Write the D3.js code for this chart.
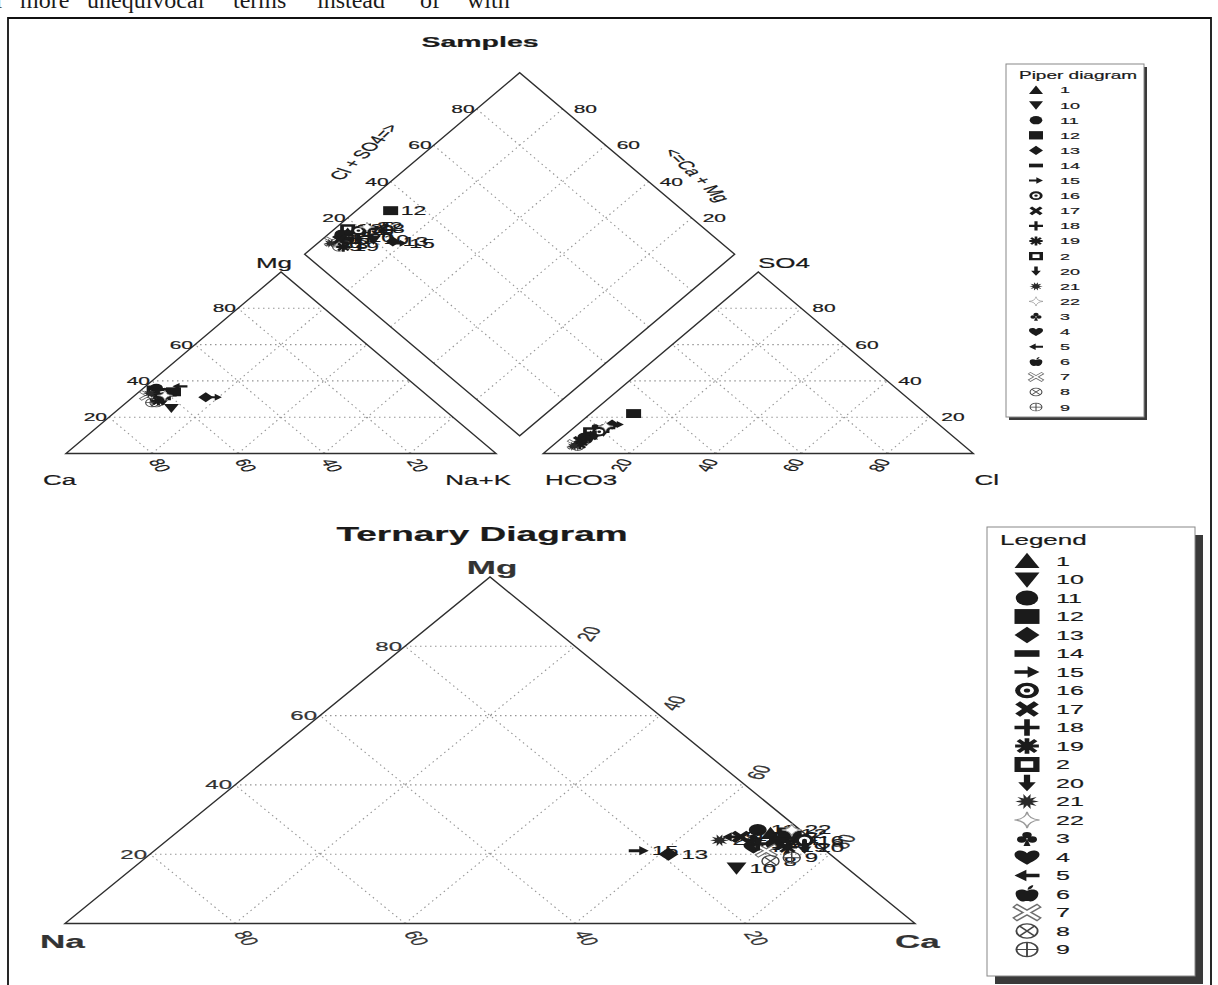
<!DOCTYPE html>
<html>
<head>
<meta charset="utf-8">
<script src="https://cdn.jsdelivr.net/npm/d3@7"></script>
<style>
  body { margin: 0; background: #fff; }
  text { font-family: "Liberation Sans", Arial, Helvetica, sans-serif; fill: #1a1a1a;
         stroke: #1a1a1a; stroke-width: 0.35; }
</style>
</head>
<body>
<svg id="chart" width="1218" height="985"></svg>
<script>
// sample ids, in the order they were plotted
var samples = ["1", "2", "3", "4", "5", "6", "7", "8", "9", "10", "11",
               "12", "13", "14", "15", "16", "17", "18", "19", "20", "21", "22"];
// marker of each sample (same order as samples)
var markers = ["triUp", "sqHole", "club", "heart", "arrowL", "apple", "xout", "cx", "cplus",
               "triDown", "circle", "square", "diamond", "bar", "arrowR", "bull", "xbold",
               "plus", "ast", "arrowD", "burst", "star4"];

// Piper diagram - cations, % meq/L
var ca   = [63, 62, 60, 62, 55, 64, 65, 65, 66, 63, 61, 58, 52, 60, 50, 61, 62, 60, 64, 63, 64, 61];
var mg   = [33, 35, 34, 31, 37, 30, 32, 28, 28, 25, 36, 34, 31, 35, 31, 33, 34, 32, 29, 29, 33, 32];
var nak  = [ 4,  3,  6,  7,  8,  6,  3,  7,  6, 12,  3,  8, 17,  5, 19,  6,  4,  8,  7,  8,  3,  7];
// Piper diagram - anions, % meq/L
var hco3 = [84, 83, 80, 80, 77, 86, 90, 88, 90, 80, 86, 68, 76, 83, 75, 81, 88, 78, 89, 83, 91, 78];
var cl   = [ 6,  5,  7,  6,  8,  6,  5,  6,  6,  8,  5, 10,  8,  6,  9,  7,  5,  8,  6,  7,  5,  7];
var so4  = [10, 12, 13, 14, 15,  8,  5,  6,  4, 12,  9, 22, 16, 11, 16, 12,  7, 14,  5, 10,  4, 15];

// Ternary diagram (Na - Mg - Ca), %
var triNa = [ 4,  2,  7,  8,  9,  5,  7,  8,  5, 13,  5,  2, 19,  4, 22,  1,  8,  7,  4,  2, 11,  1];
var triMg = [26, 25, 24, 22, 25, 23, 21, 18, 19, 16, 27, 26, 20, 24, 21, 24, 25, 23, 22, 22, 24, 27];
var triCa = [70, 73, 69, 70, 66, 72, 72, 74, 76, 71, 68, 72, 61, 72, 57, 75, 67, 70, 74, 76, 65, 72];

var ticks = [20, 40, 60, 80];

var K = 0.54;     // the whole figure is squashed vertically
var KS = 0.66;    // ...markers a little less
var svg = d3.select("#chart");

// ---------- helpers ----------
function txt(g, s, x, y, o) {
  o = o || {};
  var t = g.append("text")
    .attr("transform", "translate(" + x + "," + y + ") scale(1," + K + ")" +
          (o.rot ? " rotate(" + o.rot + ")" : ""))
    .attr("font-size", o.size || 21)
    .attr("text-anchor", o.anchor || "start")
    .text(s);
  if (o.bold) t.attr("font-weight", "bold");
  if (o.dy) t.attr("dy", o.dy);
  if (o.fill) t.style("fill", o.fill).style("stroke", o.fill);
  return t;
}

function sym(g, type, x, y, r) {
  var s = g.append("g")
    .attr("transform", "translate(" + x + "," + y + ") scale(" + r + "," + (r * KS) + ")");
  var dark = "#1b1b1b";
  function p(d, fill) { return s.append("path").attr("d", d).attr("fill", fill || dark); }
  function c(cx, cy, rr, fill) {
    return s.append("circle").attr("cx", cx).attr("cy", cy).attr("r", rr).attr("fill", fill || dark);
  }
  function st(d, col, w) {
    return s.append("path").attr("d", d).attr("fill", "none")
      .attr("stroke", col).attr("stroke-width", w);
  }
  switch (type) {
    case "triUp":   p("M0,-1L1,0.85L-1,0.85Z"); break;
    case "triDown": p("M0,1L1,-0.85L-1,-0.85Z"); break;
    case "circle":  c(0, 0, 0.9); break;
    case "square":  p("M-1,-0.9H1V0.9H-1Z"); break;
    case "diamond": p("M0,-1L1,0L0,1L-1,0Z"); break;
    case "bar":     p("M-1,-0.4H1V0.4H-1Z"); break;
    case "arrowR":  p("M-1,-0.22H0.05V-0.7L1,0L0.05,0.7V0.22H-1Z"); break;
    case "arrowL":  p("M1,-0.22H-0.05V-0.7L-1,0L-0.05,0.7V0.22H1Z"); break;
    case "arrowD":  p("M-0.25,-1H0.25V-0.1H0.7L0,1L-0.7,-0.1H-0.25Z"); break;
    case "bull":    c(0, 0, 0.95); c(0, 0, 0.55, "#fff"); c(0, 0, 0.25); break;
    case "xbold":   st("M-0.75,-0.75L0.75,0.75M0.75,-0.75L-0.75,0.75", dark, 0.55); break;
    case "plus":    st("M-1,0H1M0,-1V1", dark, 0.45); break;
    case "ast":
      st("M-0.95,0H0.95M0,-0.95V0.95M-0.7,-0.7L0.7,0.7M0.7,-0.7L-0.7,0.7", dark, 0.38);
      c(0, 0, 0.4); break;
    case "sqHole":
      p("M-1,-0.9H1V0.9H-1Z M-0.5,-0.4V0.4H0.5V-0.4Z").attr("fill-rule", "evenodd"); break;
    case "burst":
      var pts = d3.range(20).map(function(i) {
        var a = i * Math.PI / 10, rr = i % 2 ? 0.45 : 0.95;
        return [rr * Math.cos(a), rr * Math.sin(a)];
      });
      p("M" + pts.join("L") + "Z", "#2a2a2a"); break;
    case "star4":
      st("M0,-1Q0.12,-0.12 1,0Q0.12,0.12 0,1Q-0.12,0.12 -1,0Q-0.12,-0.12 0,-1Z", "#9a9a9a", 0.13)
        .attr("fill", "#fff"); break;
    case "club":
      c(0, -0.42, 0.38); c(-0.42, 0.12, 0.38); c(0.42, 0.12, 0.38);
      p("M0,0L0.28,0.9H-0.28Z"); break;
    case "heart":
      p("M0,0.95C-0.35,0.6 -1,0.25 -1,-0.3C-1,-0.85 -0.3,-0.95 0,-0.45C0.3,-0.95 1,-0.85 1,-0.3C1,0.25 0.35,0.6 0,0.95Z");
      break;
    case "apple":
      p("M0,-0.4C0.5,-0.75 1,-0.5 0.9,0.1C0.85,0.6 0.5,0.95 0.25,0.9C0.1,0.85 -0.1,0.85 -0.25,0.9" +
        "C-0.5,0.95 -0.85,0.6 -0.9,0.1C-1,-0.5 -0.5,-0.75 0,-0.4Z");
      p("M0.05,-0.5C0.05,-0.85 0.3,-1.05 0.5,-1.05C0.5,-0.8 0.3,-0.55 0.05,-0.5Z");
      break;
    case "xout":
      st("M-1,-0.85L1,0.85M1,-0.85L-1,0.85", "#6e6e6e", 0.6);
      st("M-0.9,-0.77L0.9,0.77M0.9,-0.77L-0.9,0.77", "#fff", 0.28); break;
    case "cx":
      c(0, 0, 0.85, "none").attr("stroke", "#444").attr("stroke-width", 0.15);
      st("M-0.6,-0.6L0.6,0.6M0.6,-0.6L-0.6,0.6", "#444", 0.15); break;
    case "cplus":
      c(0, 0, 0.85, "none").attr("stroke", "#444").attr("stroke-width", 0.15);
      st("M-0.85,0H0.85M0,-0.85V0.85", "#444", 0.15); break;
  }
  return s;
}

function drawGrid(g, segs) {
  g.selectAll(null).data(segs).enter().append("line")
    .attr("x1", function(d) { return d[0][0]; })
    .attr("y1", function(d) { return d[0][1]; })
    .attr("x2", function(d) { return d[1][0]; })
    .attr("y2", function(d) { return d[1][1]; })
    .attr("stroke", "#959595")
    .attr("stroke-width", 1.1)
    .attr("stroke-dasharray", "1.5,3.5");
}

function drawOutline(g, corners) {
  g.append("path")
    .attr("d", d3.line()(corners) + "Z")
    .attr("fill", "none")
    .attr("stroke", "#2e2e2e")
    .attr("stroke-width", 1.4);
}

// ---------- page frame and text above ----------
var quote = svg.append("text")
  .attr("y", 8)
  .style("font-family", "'Liberation Serif', 'Times New Roman', serif")
  .style("stroke", "none")
  .attr("font-size", 24);
[["r", -4], ["more", 20], ["unequivocal", 87], ["terms", 233], ["instead", 317], ["of", 420], ["with", 467]]
  .forEach(function(w) { quote.append("tspan").attr("x", w[1]).text(w[0]); });

svg.append("path")
  .attr("d", "M8,985V18H1211V985")
  .attr("fill", "none").attr("stroke", "#111").attr("stroke-width", 1.8);

// ---------- Piper diagram ----------
var px = d3.scaleLinear().domain([0, 100]).range([66, 496]);
var py = d3.scaleLinear().domain([0, 100]).range([453.5, 272]);
var gap = 11, dv = 9.8;
function catPt(nk, m) { return [px(nk + m / 2), py(m)]; }
function anPt(c, s) { return [px(100 + gap + c + s / 2), py(s)]; }
function diaPt(a, b) { return [px(50 + gap / 2 + (a + b) / 2), py(100 + dv + b - a)]; }

var piper = svg.append("g");
var segs = [];
ticks.forEach(function(t) {
  segs.push([catPt(0, t), catPt(100 - t, t)], [catPt(t, 0), catPt(t, 100 - t)],
            [catPt(100 - t, 0), catPt(0, 100 - t)]);
  segs.push([anPt(0, t), anPt(100 - t, t)], [anPt(t, 0), anPt(t, 100 - t)],
            [anPt(100 - t, 0), anPt(0, 100 - t)]);
  segs.push([diaPt(t, 0), diaPt(t, 100)], [diaPt(0, t), diaPt(100, t)]);
});
drawGrid(piper, segs);
drawOutline(piper, [catPt(0, 0), catPt(100, 0), catPt(0, 100)]);
drawOutline(piper, [anPt(0, 0), anPt(100, 0), anPt(0, 100)]);
drawOutline(piper, [diaPt(0, 0), diaPt(100, 0), diaPt(100, 100), diaPt(0, 100)]);

ticks.forEach(function(t) {
  var q = catPt(0, t);
  txt(piper, t, q[0] - 2, q[1], { anchor: "end", dy: "0.35em" });
  q = catPt(100 - t, 0);
  txt(piper, t, q[0] + 3, q[1] + 6, { rot: 65, dy: "0.35em" });
  q = anPt(t, 0);
  txt(piper, t, q[0] - 3, q[1] + 6, { rot: -65, anchor: "end", dy: "0.35em" });
  q = anPt(100 - t, t);
  txt(piper, t, q[0] + 11, q[1], { dy: "0.35em" });
  q = diaPt(0, t);
  txt(piper, t, q[0] - 2, q[1], { anchor: "end", dy: "0.35em" });
  q = diaPt(100 - t, 100);
  txt(piper, t, q[0] + 11, q[1], { dy: "0.35em" });
});

txt(piper, "Samples", 480, 47, { size: 28.5, bold: true, anchor: "middle" });
txt(piper, "Cl + SO4=>", 364, 152, { size: 22, rot: -60, anchor: "middle", dy: "0.35em" });
txt(piper, "<=Ca + Mg", 697, 175, { size: 22, rot: 60, anchor: "middle", dy: "0.35em" });
txt(piper, "Mg", 274, 268, { size: 26, anchor: "middle" });
txt(piper, "SO4", 758, 268, { size: 26 });
txt(piper, "Ca", 43, 485, { size: 26 });
txt(piper, "Na+K", 511, 485, { size: 26, anchor: "end" });
txt(piper, "HCO3", 545, 485, { size: 26 });
txt(piper, "Cl", 999, 485, { size: 26, anchor: "end" });

var piperPts = piper.append("g");
samples.forEach(function(id, i) {
  var a = catPt(nak[i], mg[i]);
  var b = anPt(cl[i], so4[i]);
  var d = diaPt(nak[i], cl[i] + so4[i]);
  sym(piperPts, markers[i], a[0], a[1], 7.5);
  sym(piperPts, markers[i], b[0], b[1], 7.5);
  sym(piperPts, markers[i], d[0], d[1], 7.5);
  txt(piperPts, id, d[0] + 10, d[1], { size: 23, dy: "0.35em" });
});

// ---------- Ternary diagram ----------
var tx = d3.scaleLinear().domain([0, 100]).range([65, 915]);
var ty = d3.scaleLinear().domain([0, 100]).range([923.5, 577]);
function terPt(c, m) { return [tx(c + m / 2), ty(m)]; }

var tern = svg.append("g");
var tsegs = [];
ticks.forEach(function(t) {
  tsegs.push([terPt(0, t), terPt(100 - t, t)], [terPt(t, 0), terPt(t, 100 - t)],
             [terPt(100 - t, 0), terPt(0, 100 - t)]);
});
drawGrid(tern, tsegs);
drawOutline(tern, [terPt(0, 0), terPt(100, 0), terPt(0, 100)]);

ticks.forEach(function(t) {
  var q = terPt(0, t);
  txt(tern, t, q[0] - 3, q[1], { size: 24, anchor: "end", dy: "0.35em", fill: "#333" });
  q = terPt(t, 100 - t);
  txt(tern, t, q[0] + 8, q[1] - 6, { size: 24, rot: -65, dy: "0.35em", fill: "#333" });
  q = terPt(t, 0);
  txt(tern, 100 - t, q[0] + 6, q[1] + 8, { size: 24, rot: 65, dy: "0.35em", fill: "#333" });
});

txt(tern, "Ternary Diagram", 482, 541, { size: 37, bold: true, anchor: "middle" });
txt(tern, "Mg", 492, 574, { size: 35, bold: true, anchor: "middle", fill: "#333" });
txt(tern, "Na", 40, 948, { size: 35, bold: true, fill: "#333" });
txt(tern, "Ca", 895, 948, { size: 35, bold: true, fill: "#333" });

var ternPts = tern.append("g");
samples.forEach(function(id, i) {
  var q = terPt(triCa[i], triMg[i]);
  sym(ternPts, markers[i], q[0], q[1], 10);
  txt(ternPts, id, q[0] + 13, q[1], { size: 24, dy: "0.35em" });
});

// ---------- legends ----------
var legendOrder = samples.slice().sort();   // names sorted as text

function drawLegend(o) {
  var g = svg.append("g");
  g.append("rect").attr("x", o.x + o.sh).attr("y", o.y + o.sh)
    .attr("width", o.w).attr("height", o.h).attr("fill", "#3a3a3a");
  g.append("rect").attr("x", o.x).attr("y", o.y)
    .attr("width", o.w).attr("height", o.h)
    .attr("fill", "#fff").attr("stroke", "#888").attr("stroke-width", 1);
  txt(g, o.title, o.x + o.titleDx, o.titleY, { size: o.titleSize, dy: "0.35em" });
  legendOrder.forEach(function(id, k) {
    var y = o.first + o.step * k;
    sym(g, markers[samples.indexOf(id)], o.symX, y, o.r);
    txt(g, id, o.textX, y, { size: o.size, dy: "0.35em" });
  });
}

drawLegend({ x: 1006, y: 64, w: 138, h: 353, sh: 3, title: "Piper diagram", titleDx: 13,
             titleY: 75, titleSize: 19, first: 90, step: 15.1, symX: 1036, textX: 1060,
             r: 7, size: 18 });
drawLegend({ x: 987, y: 527, w: 208, h: 449, sh: 8, title: "Legend", titleDx: 13,
             titleY: 540, titleSize: 26, first: 561, step: 18.5, symX: 1027, textX: 1056,
             r: 12.5, size: 25 });
</script>
</body>
</html>
